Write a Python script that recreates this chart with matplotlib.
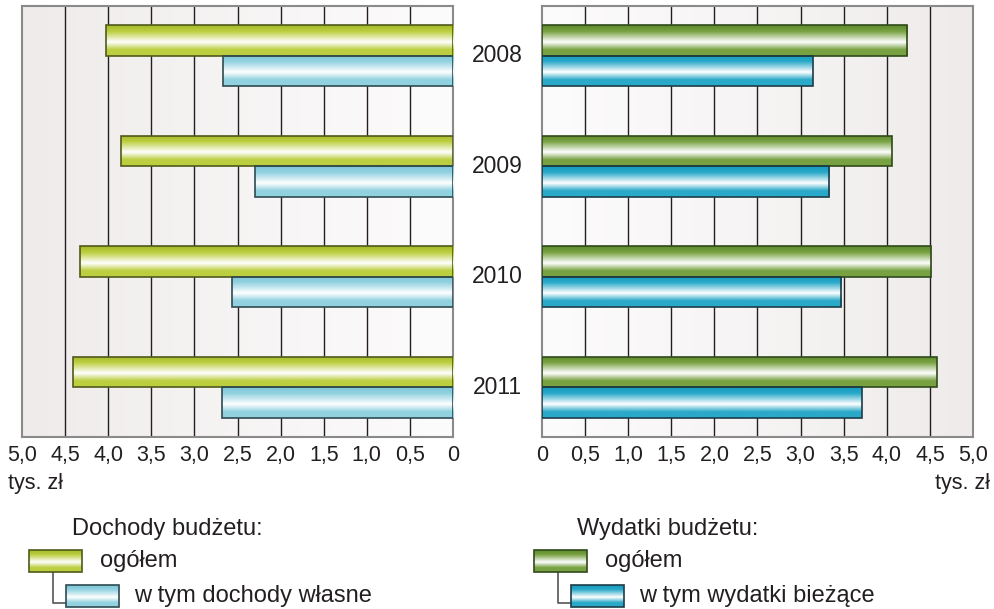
import numpy as np
import matplotlib
matplotlib.use("Agg")
import matplotlib.pyplot as plt
from matplotlib.colors import LinearSegmentedColormap
from matplotlib.patches import Rectangle
import matplotlib.transforms as mtransforms

plt.rcParams['font.family'] = ['Liberation Sans', 'DejaVu Sans']

# dane (tys. zł)
years = ['2008', '2009', '2010', '2011']
dochody_ogolem = [4.03, 3.85, 4.33, 4.41]
dochody_wlasne = [2.67, 2.30, 2.56, 2.68]
wydatki_ogolem = [4.24, 4.06, 4.51, 4.58]
wydatki_biezace = [3.14, 3.33, 3.47, 3.71]
ticks = [0, 0.5, 1.0, 1.5, 2.0, 2.5, 3.0, 3.5, 4.0, 4.5, 5.0]

TXT = '#231f20'
W, H = 995, 609


def bar_cmap(c, top):
    # ciemniej u góry, biały pas nieco poniżej środka
    return LinearSegmentedColormap.from_list(
        'g', [(0, top), (0.2, c), (0.55, 'white'), (0.8, c), (1, c)])


cm_lgreen = bar_cmap('#bccf40', '#a3b82a')
cm_lblue = bar_cmap('#92d2e0', '#7cc6d8')
cm_dgreen = bar_cmap('#78a242', '#5e8a2c')
cm_dblue = bar_cmap('#2aa9c9', '#139bbf')
grad = np.linspace(0, 1, 100).reshape(-1, 1)


def fill_bars(ax, bars, cmap, edge):
    for p in bars:
        x0, y0 = p.get_x(), p.get_y()
        x1, y1 = x0 + p.get_width(), y0 + p.get_height()
        im = ax.imshow(grad, cmap=cmap, extent=(x0, x1, y1, y0),
                       aspect='auto', zorder=3, interpolation='bilinear')
        im.set_clip_path(p)
        p.set_facecolor('none')
        p.set_edgecolor(edge)
        p.set_linewidth(1.2)
        p.set_zorder(4)


def panel(ax, a, b, cma, cmb, edge_a, edge_b, right):
    y = np.arange(len(years))
    h = 0.277
    ba = ax.barh(y - h / 2, a, height=h)
    bb = ax.barh(y + h / 2, b, height=h)
    fill_bars(ax, ba, cma, edge_a)
    fill_bars(ax, bb, cmb, edge_b)
    # tło z gradientem: jasne przy zerze, ciemniejsze przy 5,0
    bg = np.linspace(0, 1, 200).reshape(1, -1)
    bgc = LinearSegmentedColormap.from_list('bg', ['#fdfcfc', '#efebeb'])
    ax.imshow(bg, cmap=bgc, extent=(0, 5, 3.45, -0.45), aspect='auto', zorder=0)
    ax.set_ylim(3.45, -0.45)
    if right:
        ax.set_xlim(0, 5)
    else:
        ax.set_xlim(5, 0)
    ax.set_xticks(ticks)
    ax.set_xticklabels(['0' if t == 0 else ('%.1f' % t).replace('.', ',') for t in ticks],
                       fontsize=15.5, color=TXT)
    ax.tick_params(axis='x', length=0, pad=6)
    ax.set_yticks([])
    for t in ticks[1:-1]:
        ax.axvline(t, color=TXT, lw=1.0, zorder=1)
    for s in ax.spines.values():
        s.set_color('#8a8a8a')
        s.set_linewidth(1.5)


fig = plt.figure(figsize=(9.95, 6.09), dpi=100)
axL = fig.add_axes([22 / W, 1 - 437 / H, 431 / W, 431 / H])
axR = fig.add_axes([542 / W, 1 - 437 / H, 431 / W, 431 / H])
panel(axL, dochody_ogolem, dochody_wlasne, cm_lgreen, cm_lblue, '#4f5a1a', '#2f4a50', False)
panel(axR, wydatki_ogolem, wydatki_biezace, cm_dgreen, cm_dblue, '#2f4a1a', '#1d3c48', True)

tr = mtransforms.blended_transform_factory(fig.transFigure, axL.transData)
for i, yr in enumerate(years):
    fig.text(497 / W, i, yr, transform=tr, ha='center', va='center', fontsize=16.5, color=TXT)

# nakładka w pikselach na legendę i opisy
ov = fig.add_axes([0, 0, 1, 1], zorder=10)
ov.set_xlim(0, W)
ov.set_ylim(H, 0)
ov.axis('off')

ov.text(8, 483, 'tys. zł', fontsize=15.5, color=TXT, va='center', ha='left')
ov.text(990, 483, 'tys. zł', fontsize=15.5, color=TXT, va='center', ha='right')


def leg_box(x0, y0, cmap, edge):
    r = Rectangle((x0, y0), 53, 22, facecolor='none', edgecolor=edge, lw=1.2, zorder=4)
    ov.add_patch(r)
    im = ov.imshow(grad, cmap=cmap, extent=(x0, x0 + 53, y0 + 22, y0), aspect='auto',
                   zorder=3, interpolation='bilinear')
    im.set_clip_path(r)


def legend(x, title, l1, l2, cma, cmb, ea, eb):
    ov.text(x + 43, 529, title, fontsize=17, color=TXT, va='center')
    ov.plot([x + 24, x + 24, x + 37], [572, 603, 603], color='#555555', lw=1.2, zorder=2)
    leg_box(x, 550, cma, ea)
    leg_box(x + 37, 585, cmb, eb)
    ov.text(x + 71, 561, l1, fontsize=17, color=TXT, va='center')
    ov.text(x + 105, 596, l2, fontsize=17, color=TXT, va='center')


legend(29, 'Dochody budżetu:', 'ogółem', 'w tym dochody własne',
       cm_lgreen, cm_lblue, '#4f5a1a', '#2f4a50')
legend(534, 'Wydatki budżetu:', 'ogółem', 'w tym wydatki bieżące',
       cm_dgreen, cm_dblue, '#2f4a1a', '#1d3c48')
ov.set_xlim(0, W)
ov.set_ylim(H, 0)

fig.savefig('out.png', dpi=100)
